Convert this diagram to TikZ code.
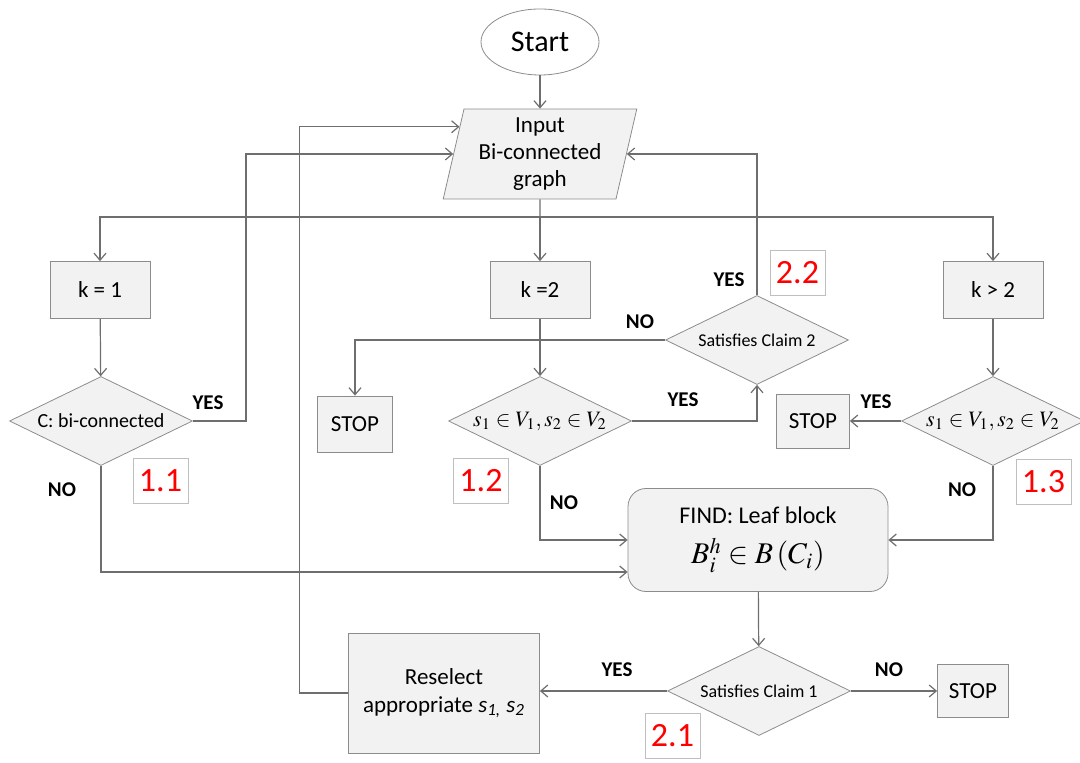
\documentclass[tikz,border=0pt]{standalone}
\usepackage{mathptmx}
\usepackage[no-math]{fontspec}
\setmainfont{Carlito}
\usetikzlibrary{shapes.geometric,arrows.meta,calc}

\definecolor{boxfill}{HTML}{F2F2F2}
\definecolor{boxgray}{HTML}{8C8C8C}
\definecolor{linegray}{HTML}{6E6E6E}
\definecolor{numgray}{HTML}{BFBFBF}

\tikzset{
  box/.style={draw=boxgray, fill=boxfill, inner sep=0pt, align=center,
    minimum width=50pt, minimum height=28.5pt, font=\fontsize{11.5}{14}\selectfont},
  decision/.style={diamond, draw=boxgray, fill=boxfill, aspect=2, inner sep=0pt,
    minimum width=91.5pt, minimum height=44.5pt},
  answer/.style={font=\fontsize{10.5}{12}\selectfont\bfseries},
  stepno/.style={draw=numgray, text=red, inner sep=0pt,
    minimum width=27.5pt, minimum height=22.5pt, font=\fontsize{17}{20}\selectfont},
  flow/.style={draw=linegray, line width=0.6pt, -{Straight Barb[length=3.5pt,width=6pt]}},
  link/.style={draw=linegray, line width=0.6pt}
}

\begin{document}
\begin{tikzpicture}[x=0.5pt,y=-0.5pt]
  \useasboundingbox (0,0) rectangle (1080,763);

  % start and input
  \node[ellipse, draw=boxgray, inner sep=0pt, minimum width=59pt, minimum height=33pt,
    font=\fontsize{15}{18}\selectfont] (start) at (540,42) {Start};
  \node[trapezium, trapezium left angle=77, trapezium right angle=103, draw=boxgray,
    fill=boxfill, inner sep=0pt, minimum width=97pt, minimum height=43pt, align=center,
    font=\fontsize{11.5}{13.5}\selectfont] (input) at (540,154) {Input\\Bi-connected\\graph};
  \coordinate (in1) at ($(input.top left corner)!0.2!(input.bottom left corner)$);
  \coordinate (in2) at ($(input.top left corner)!0.5!(input.bottom left corner)$);
  \coordinate (in3) at ($(input.top right corner)!0.5!(input.bottom right corner)$);
  \coordinate (bus) at (540,217);

  % cases on k
  \node[box] (kone) at (100,290) {k = 1};
  \node[box] (ktwo) at (540,290) {k =2};
  \node[box] (kbig) at (993,290) {k > 2};

  \node[decision, font=\fontsize{10}{12}\selectfont] (bic) at (101,421) {C: bi-connected};
  \node[decision, font=\fontsize{11}{13}\selectfont] (midtest) at (540,421) {$s_1 \in V_1, s_2 \in V_2$};
  \node[decision, font=\fontsize{11}{13}\selectfont] (righttest) at (993,421) {$s_1 \in V_1, s_2 \in V_2$};
  \node[decision, font=\fontsize{9}{11}\selectfont] (claimtwo) at (757,340) {Satisfies Claim 2};

  \node[box, minimum width=37.5pt, minimum height=28pt] (stopa) at (355,424) {STOP};
  \node[box, minimum width=36.5pt, minimum height=27pt] (stopb) at (813,421) {STOP};

  \node[box, rounded corners=9pt, minimum width=130pt, minimum height=51.5pt,
    font=\fontsize{12}{15}\selectfont] (find) at (758,540)
    {FIND: Leaf block\\[5pt] {\fontsize{15}{18}\selectfont $B_i^h \in B\left(C_i\right)$}};

  \node[decision, font=\fontsize{9}{11}\selectfont] (claimone) at (759,691) {Satisfies Claim 1};
  \node[box, minimum width=95.5pt, minimum height=60pt] (reselect) at (444,693)
    {Reselect\\appropriate \textit{s}\textsubscript{\textit{1,}} \textit{s}\textsubscript{\textit{2}}};
  \node[box, minimum width=35.5pt, minimum height=26.5pt] (stopc) at (973,691) {STOP};

  % connectors
  \draw[flow] (start) -- (input);
  \draw[link] (input) -- (bus);
  \draw[flow] (bus) -- (ktwo);
  \draw[flow] (bus) -| (kone);
  \draw[flow] (bus) -| (kbig);
  \draw[flow] (kone) -- (bic);
  \draw[flow] (ktwo) -- (midtest);
  \draw[flow] (kbig) -- (righttest);

  \draw[flow] (bic.east) -- ++(53,0) |- (in2);
  \draw[flow] (bic.south) |- ($(find.west)+(0,32)$);
  \draw[flow] (midtest.south) |- (find.west);
  \draw[flow] (midtest.east) -| (claimtwo.south);
  \draw[flow] (claimtwo.north) |- (in3);
  \draw[flow] (claimtwo.west) -| (stopa.north);
  \draw[flow] (righttest.west) -- (stopb.east);
  \draw[flow] (righttest.south) |- (find.east);
  \draw[flow] (find) -- (claimone);
  \draw[flow] (claimone.west) -- (claimone.west -| reselect.east);
  \draw[flow] (claimone.east) -- (claimone.east -| stopc.west);
  \draw[flow] (reselect.west) -- ++(-49,0) |- (in1);

  % answers
  \foreach \x/\y/\t/\n in {208/403/YES/a, 62/490/NO/b, 683/400/YES/c, 564/503/NO/d,
      729/280/YES/e, 640/322/NO/f, 876/402/YES/g, 962/490/NO/h, 617/670/YES/i, 889/670/NO/j} {
    \node[answer] (ans\n) at (\x,\y) {\t};
  }

  % step numbers
  \foreach \x/\y/\t/\n in {160.5/480.5/1.1/a, 481/480.5/1.2/b, 1043.5/481.5/1.3/c,
      797.5/272.5/2.2/d, 672.5/735.5/2.1/e} {
    \node[stepno] (tag\n) at (\x,\y) {\t};
  }

\end{tikzpicture}
\end{document}
